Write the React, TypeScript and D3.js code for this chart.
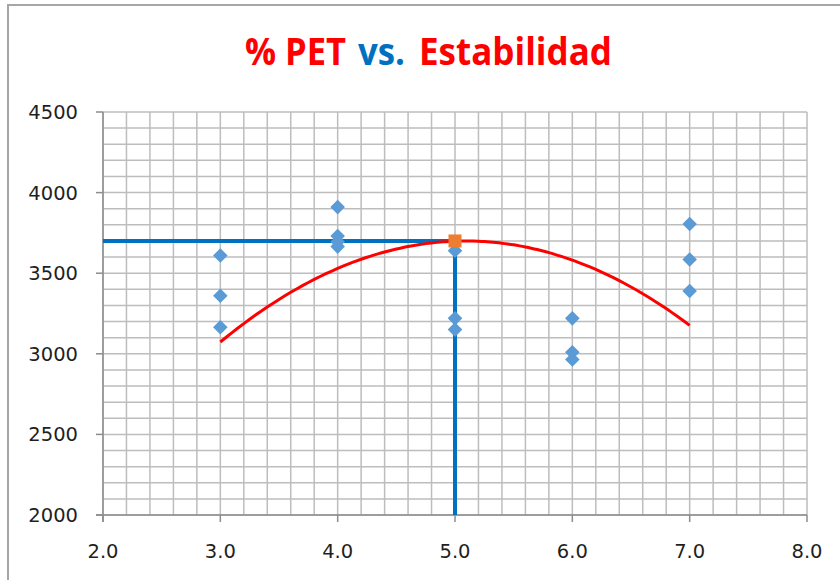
import * as d3 from "d3";

// scatter data: % PET vs. Estabilidad
const petValues = [3, 3, 3, 4, 4, 4, 4, 5, 5, 5, 6, 6, 6, 7, 7, 7];
const stabilityValues = [3610, 3360, 3165, 3910, 3730, 3695, 3665, 3640, 3220, 3150, 3220, 3010, 2965, 3805, 3585, 3390];

// optimum point (orange square) and guide lines
const optimumPet = 5.0;
const optimumStability = 3700;

// quadratic trendline, vertex form: y = a (x - h)^2 + k, over [3, 7]
const trendA = -143.5;
const trendH = 5.09;
const trendK = 3700;
const trendRange = [3, 7];

const xTicks = [2, 3, 4, 5, 6, 7, 8];
const yTicks = [2000, 2500, 3000, 3500, 4000, 4500];

// title pieces, each with its own colour
const titleParts = [
  { text: "% PET", color: "#ff0000", x: 245, len: 101 },
  { text: "vs.", color: "#0070c0", x: 358, len: 47 },
  { text: "Estabilidad", color: "#ff0000", x: 419, len: 193 },
];

const W = 840;
const H = 580;
const plot = { left: 103, right: 807, top: 112, bottom: 515 };

export default function App() {
  const x = d3.scaleLinear().domain([2, 8]).range([plot.left, plot.right]);
  const y = d3.scaleLinear().domain([2000, 4500]).range([plot.bottom, plot.top]);

  const vGrid = d3.range(2, 8.0001, 0.2);
  const hGrid = d3.range(2000, 4500.1, 100);

  const trendPts = d3.range(trendRange[0], trendRange[1] + 0.001, 0.05).map((p) => ({
    x: p,
    y: trendA * (p - trendH) * (p - trendH) + trendK,
  }));
  const trendLine = d3
    .line<{ x: number; y: number }>()
    .x((d) => x(d.x))
    .y((d) => y(d.y))
    .curve(d3.curveMonotoneX);

  const points = petValues.map((p, i) => ({ x: p, y: stabilityValues[i] }));
  const dia = 7.3;

  return (
    <svg
      width={W}
      height={H}
      style={{ position: "absolute", left: 0, top: 0, background: "#fff" }}
    >
      {/* chart border */}
      <rect x={8} y={5} width={W + 20} height={H + 20} fill="#fff" stroke="#a6a6a6" strokeWidth={2} />

      <g fontFamily="'Open Sans', sans-serif" fontWeight="bold" fontSize={38}>
        {titleParts.map((t) => (
          <text
            key={t.text}
            x={t.x}
            y={65}
            fill={t.color}
            textLength={t.len}
            lengthAdjust="spacingAndGlyphs"
          >
            {t.text}
          </text>
        ))}
      </g>

      {/* grid */}
      <g stroke="#bdbdbd" strokeWidth={1.5}>
        {vGrid.map((v, i) => (
          <line key={"v" + i} x1={x(v)} x2={x(v)} y1={plot.top} y2={plot.bottom} />
        ))}
        {hGrid.map((v, i) => (
          <line key={"h" + i} x1={plot.left} x2={plot.right} y1={y(v)} y2={y(v)} />
        ))}
      </g>

      {/* axes */}
      <g stroke="#8c8c8c" strokeWidth={1.5}>
        <line x1={plot.left} x2={plot.left} y1={plot.top} y2={plot.bottom + 7} />
        <line x1={plot.left - 7} x2={plot.right} y1={plot.bottom} y2={plot.bottom} />
        {xTicks.map((t) => (
          <line key={"xt" + t} x1={x(t)} x2={x(t)} y1={plot.bottom} y2={plot.bottom + 7} />
        ))}
        {yTicks.map((t) => (
          <line key={"yt" + t} x1={plot.left - 7} x2={plot.left} y1={y(t)} y2={y(t)} />
        ))}
      </g>

      <g fontFamily="'DejaVu Sans', sans-serif" fontSize={19.5} fill="#1f1f1f">
        {xTicks.map((t) => (
          <text key={"xl" + t} x={x(t)} y={558} textAnchor="middle">
            {d3.format(".1f")(t)}
          </text>
        ))}
        {yTicks.map((t) => (
          <text key={"yl" + t} x={78} y={y(t) + 7} textAnchor="end">
            {t}
          </text>
        ))}
      </g>

      {/* guide lines to optimum */}
      <g stroke="#0070c0" strokeWidth={4}>
        <line x1={x(2)} x2={x(optimumPet)} y1={y(optimumStability)} y2={y(optimumStability)} />
        <line x1={x(optimumPet)} x2={x(optimumPet)} y1={y(optimumStability)} y2={y(2000)} />
      </g>

      {/* trendline */}
      <path d={trendLine(trendPts) ?? ""} fill="none" stroke="#ff0000" strokeWidth={3} />

      {/* data markers */}
      {points.map((p, i) => (
        <path
          key={"p" + i}
          d={`M${x(p.x)},${y(p.y) - dia}L${x(p.x) + dia},${y(p.y)}L${x(p.x)},${y(p.y) + dia}L${x(p.x) - dia},${y(p.y)}Z`}
          fill="#5b9bd5"
        />
      ))}

      <rect
        x={x(optimumPet) - 6.5}
        y={y(optimumStability) - 6.5}
        width={13}
        height={13}
        fill="#ed7d31"
      />
    </svg>
  );
}
